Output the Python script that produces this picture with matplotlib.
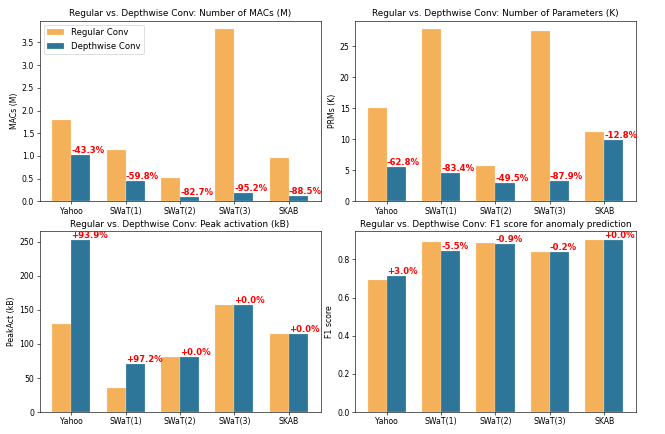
import numpy as np
import matplotlib
matplotlib.use("Agg")
import matplotlib.pyplot as plt

# Datasets on the x axis
DATASETS = ["Yahoo", "SWaT(1)", "SWaT(2)", "SWaT(3)", "SKAB"]

# Number of MACs (M)
macs_reg = [1.80, 1.12, 0.52, 3.79, 0.96]
macs_dw = [1.02, 0.45, 0.09, 0.18, 0.11]
macs_pct = ["-43.3%", "-59.8%", "-82.7%", "-95.2%", "-88.5%"]

# Number of parameters (K)
prms_reg = [15.0, 27.7, 5.7, 27.5, 11.2]
prms_dw = [5.6, 4.6, 2.9, 3.3, 9.8]
prms_pct = ["-62.8%", "-83.4%", "-49.5%", "-87.9%", "-12.8%"]

# Peak activation (kB)
peak_reg = [130, 36, 81, 158, 115]
peak_dw = [253, 71, 81, 158, 115]
peak_pct = ["+93.9%", "+97.2%", "+0.0%", "+0.0%", "+0.0%"]

# F1 score
f1_reg = [0.690, 0.890, 0.886, 0.838, 0.902]
f1_dw = [0.711, 0.842, 0.878, 0.836, 0.902]
f1_pct = ["+3.0%", "-5.5%", "-0.9%", "-0.2%", "+0.0%"]

REG_COLOR = "#F5B05A"
DW_COLOR = "#2E7699"
WIDTH = 0.35

fig = plt.figure(figsize=(12, 7.832), dpi=665 / 12)

# Axes positions (left, bottom, width, height) in figure fractions
positions = [
    [0.0594, 0.5362, 0.4226, 0.4161],
    [0.5338, 0.5362, 0.4226, 0.4161],
    [0.0594, 0.0507, 0.4226, 0.4164],
    [0.5338, 0.0507, 0.4226, 0.4164],
]

panels = [
    (macs_reg, macs_dw, macs_pct, "Regular vs. Depthwise Conv: Number of MACs (M)", "MACs (M)"),
    (prms_reg, prms_dw, prms_pct, "Regular vs. Depthwise Conv: Number of Parameters (K)", "PRMs (K)"),
    (peak_reg, peak_dw, peak_pct, "Regular vs. Depthwise Conv: Peak activation (kB)", "PeakAct (kB)"),
    (f1_reg, f1_dw, f1_pct, "Regular vs. Depthwise Conv: F1 score for anomaly prediction", "F1 score"),
]

x = np.arange(len(DATASETS))

for k, (reg, dw, pct, title, ylabel) in enumerate(panels):
    ax = fig.add_axes(positions[k])
    ax.bar(x - WIDTH / 2, reg, WIDTH, color=REG_COLOR, edgecolor="#FFF3E0",
           linewidth=0.3, label="Regular Conv")
    ax.bar(x + WIDTH / 2, dw, WIDTH, color=DW_COLOR, edgecolor="#D6E6EE",
           linewidth=0.3, label="Depthwise Conv")

    # Percentage change above each depthwise bar
    for i in range(len(DATASETS)):
        ax.text(x[i], dw[i], pct[i], ha="left", va="bottom", color="red",
                fontsize=11, fontweight="bold")

    ax.set_xticks(x)
    ax.set_xticklabels(DATASETS)
    ax.set_title(title, fontsize=11.5)
    ax.set_ylabel(ylabel)

    if k == 0:
        ax.legend(loc="upper left", fontsize=11)

fig.savefig("out.png", dpi=665 / 12)
